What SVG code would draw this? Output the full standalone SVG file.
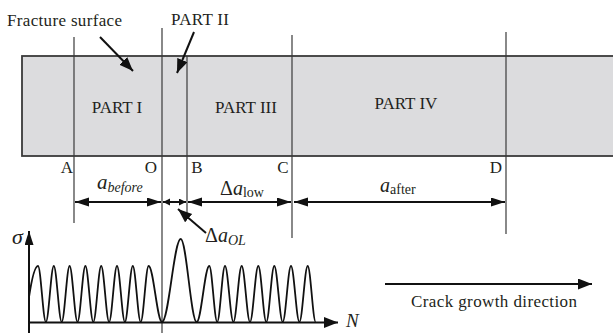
<svg xmlns="http://www.w3.org/2000/svg" width="613" height="333" viewBox="0 0 613 333" font-family="'Liberation Serif', 'Times New Roman', serif">
<style>
text{fill:#231f20}
.lbl{font-size:17px}
.vl{stroke:#3a3a3a;stroke-width:1.2;fill:none}
.dim{stroke:#111;stroke-width:2;fill:none}
.ptr{stroke:#111;stroke-width:2;fill:none}
.it{font-style:italic}
</style>
<defs>
<marker id="ah" markerUnits="userSpaceOnUse" markerWidth="16" markerHeight="10" refX="14" refY="4.5" orient="auto-start-reverse"><path d="M0,0 L14,4.5 L0,9 z" fill="#111"/></marker>
<marker id="ahs" markerUnits="userSpaceOnUse" markerWidth="9" markerHeight="8" refX="7" refY="3.5" orient="auto-start-reverse"><path d="M0,0 L7,3.5 L0,7 z" fill="#111"/></marker>
<marker id="ahp" markerUnits="userSpaceOnUse" markerWidth="16" markerHeight="12" refX="14" refY="5.5" orient="auto"><path d="M0,0 L14,5.5 L0,11 z" fill="#111"/></marker>
</defs>
<g id="specimen">
<rect x="22" y="56" width="600" height="100" fill="#dcdcde" stroke="#3a3a3a" stroke-width="1.8"/>
<text class="lbl" font-family="'Liberation Serif', serif" x="117" y="113" text-anchor="middle">PART I</text>
<text class="lbl" font-family="'Liberation Serif', serif" x="246" y="113" text-anchor="middle">PART III</text>
<text class="lbl" font-family="'Liberation Serif', serif" x="406" y="109" text-anchor="middle">PART IV</text>
</g>
<g id="lines">
<line class="vl" x1="74" y1="37" x2="74" y2="223"/>
<line class="vl" x1="162" y1="28" x2="162" y2="333"/>
<line class="vl" x1="187" y1="56" x2="187" y2="213"/>
<line class="vl" x1="292" y1="35" x2="292" y2="238"/>
<line class="vl" x1="506" y1="32" x2="506" y2="234"/>
</g>
<g id="points" font-family="'Liberation Serif', serif">
<text class="lbl" x="67" y="173" text-anchor="middle">A</text>
<text class="lbl" x="151" y="173" text-anchor="middle">O</text>
<text class="lbl" x="197" y="173" text-anchor="middle">B</text>
<text class="lbl" x="283" y="173" text-anchor="middle">C</text>
<text class="lbl" x="496" y="173" text-anchor="middle">D</text>
</g>
<g id="labels" font-family="'Liberation Serif', serif">
<text class="lbl" x="7" y="26" textLength="115">Fracture surface</text>
<text class="lbl" x="171" y="25" textLength="58">PART II</text>
<text class="lbl" x="411" y="307" textLength="166">Crack growth direction</text>
</g>
<g id="connectors">
<line class="ptr" x1="100" y1="37" x2="133" y2="71" marker-end="url(#ahp)"/>
<line class="ptr" x1="194" y1="32" x2="177" y2="73" marker-end="url(#ahp)"/>
<line class="ptr" x1="206" y1="233" x2="178" y2="209" marker-end="url(#ahp)"/>
<line class="dim" x1="75" y1="202" x2="161" y2="202" marker-start="url(#ah)" marker-end="url(#ah)"/>
<line class="dim" x1="163" y1="202" x2="186" y2="202" marker-start="url(#ahs)" marker-end="url(#ahs)"/>
<line class="dim" x1="188" y1="202" x2="291" y2="202" marker-start="url(#ah)" marker-end="url(#ah)"/>
<line class="dim" x1="294" y1="202" x2="505" y2="202" marker-start="url(#ah)" marker-end="url(#ah)"/>
<line class="ptr" x1="385" y1="284" x2="592" y2="284" marker-end="url(#ahp)"/>
</g>
<g id="dims" font-family="'Liberation Serif', serif">
<text x="97" y="189" font-size="21" font-style="italic">a<tspan font-size="14" dy="3">before</tspan></text>
<text x="220" y="195" font-size="20">Δ<tspan font-style="italic">a</tspan><tspan font-size="14" dy="2">low</tspan></text>
<text x="380" y="192" font-size="20" font-style="italic">a<tspan font-size="14" font-style="normal" dy="2">after</tspan></text>
<text x="205" y="242" font-size="20">Δ<tspan font-style="italic">a</tspan><tspan font-style="italic" font-size="14" dy="3">OL</tspan></text>
</g>
<g id="chart">
<line class="dim" x1="29" y1="333" x2="29" y2="231" marker-end="url(#ah)"/>
<line class="dim" x1="28" y1="322.5" x2="338" y2="322.5" marker-end="url(#ahp)"/>
<text x="12" y="244" font-size="22" font-style="italic" font-family="'Liberation Serif', serif">σ</text>
<text x="346" y="327" font-size="19" font-style="italic" font-family="'Liberation Serif', serif">N</text>
<path fill="none" stroke="#111" stroke-width="1.8" d="M29,297 C31,284 34,266 38,266 C40.8,266 43.1,322 45.9,322 C48.7,322 51,266 53.8,266 C56.6,266 58.9,322 61.7,322 C64.5,322 66.8,266 69.6,266 C72.4,266 74.7,322 77.5,322 C80.3,322 82.6,266 85.4,266 C88.2,266 90.5,322 93.3,322 C96.1,322 98.4,266 101.2,266 C104,266 106.3,322 109.1,322 C111.9,322 114.2,266 117,266 C119.8,266 122.1,322 124.9,322 C127.6,322 130,266 132.8,266 C135.6,266 137.9,322 140.7,322 C143.5,322 145.8,266 148.6,266 C153.4,266 157.2,322 162,322 C168.7,322 174,239 180.7,239 C186.5,239 190.9,322 196.7,322 C201.2,322 204.8,266 209.3,266 C212.1,266 214.4,322 217.2,322 C220,322 222.2,266 225,266 C228,266 230.4,322 233.4,322 C236.4,322 238.7,266 241.7,266 C244.7,266 247,322 250,322 C253,322 255.3,266 258.3,266 C261.2,266 263.4,322 266.3,322 C269.2,322 271.4,266 274.3,266 C277.3,266 279.7,322 282.7,322 C285.7,322 288,266 291,266 C294,266 296.4,322 299.4,322 C302.4,322 304.7,266 307.7,266 C310.6,266 312.8,322 315.7,322"/>
</g>
</svg>
